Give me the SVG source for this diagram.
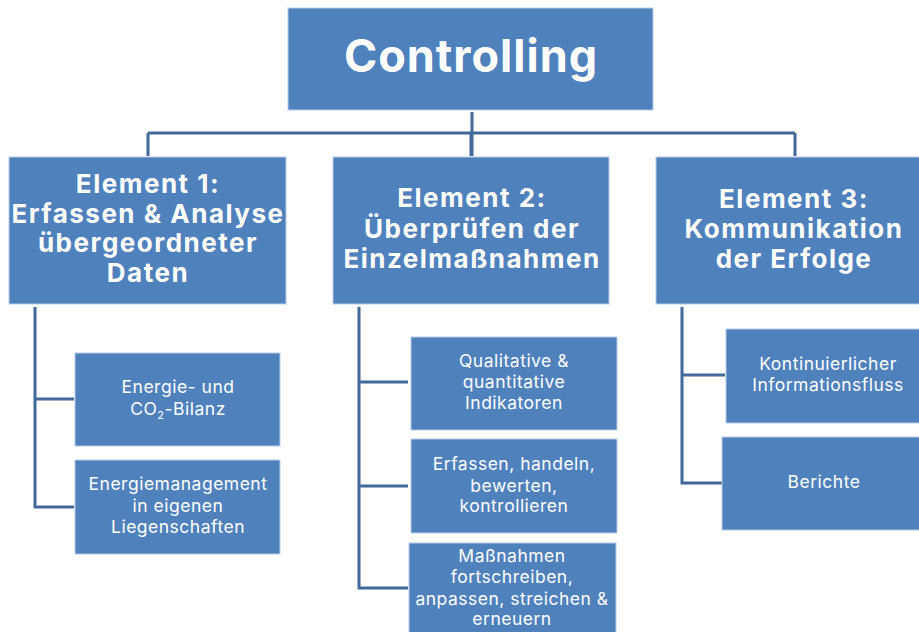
<svg xmlns="http://www.w3.org/2000/svg" width="919" height="632" viewBox="0 0 919 632">
<style>
.box{fill:#4F81BD;stroke:#B9CCE6;stroke-width:1}
.conn{stroke:#41699A;stroke-width:3;fill:none}
.t{fill:#fff;font-family:Inter,"Open Sans","DejaVu Sans",sans-serif;text-anchor:middle}
.h{font-weight:bold;font-size:26px;letter-spacing:1.5px}
.s{font-size:17.5px;letter-spacing:0.5px}
</style>
<rect width="919" height="632" fill="#fff"/>
<g id="connectors">
<path class="conn" d="M472 112V156M148 133H795M148 133V156M471 133V156M795 133V156"/>
<path class="conn" d="M35 307V507H74M35 399H74"/>
<path class="conn" d="M359 307V588H408M359 382H408M359 486H408"/>
<path class="conn" d="M682 307V483H722M682 375H725"/>
</g>
<g id="controlling">
<rect class="box" x="288" y="8" width="365" height="102"/>
<text class="t" x="471" y="72" font-weight="bold" font-size="45" letter-spacing="1">Controlling</text>
</g>
<g id="element1">
<rect class="box" x="9" y="157" width="277" height="147"/>
<text class="t h" x="148" y="193">Element 1:</text>
<text class="t h" x="148" y="223">Erfassen &amp; Analyse</text>
<text class="t h" x="148" y="252">übergeordneter</text>
<text class="t h" x="148" y="282">Daten</text>
</g>
<g id="element2">
<rect class="box" x="333" y="157" width="276" height="147"/>
<text class="t h" x="472" y="207">Element 2:</text>
<text class="t h" x="472" y="238">Überprüfen der</text>
<text class="t h" x="472" y="268">Einzelmaßnahmen</text>
</g>
<g id="element3">
<rect class="box" x="656" y="157" width="270" height="147"/>
<text class="t h" x="794" y="208">Element 3:</text>
<text class="t h" x="794" y="238">Kommunikation</text>
<text class="t h" x="794" y="268">der Erfolge</text>
</g>
<g id="e1a">
<rect class="box" x="75" y="353" width="205" height="93"/>
<text class="t s" x="178" y="393">Energie- und</text>
<text class="t s" x="178" y="415">CO<tspan font-size="11" dy="4">2</tspan><tspan dy="-4">-Bilanz</tspan></text>
</g>
<g id="e1b">
<rect class="box" x="75" y="460" width="205" height="94"/>
<text class="t s" x="178" y="490">Energiemanagement</text>
<text class="t s" x="178" y="512">in eigenen</text>
<text class="t s" x="178" y="533">Liegenschaften</text>
</g>
<g id="e2a">
<rect class="box" x="411" y="337" width="206" height="93"/>
<text class="t s" x="514" y="367">Qualitative &amp;</text>
<text class="t s" x="514" y="388">quantitative</text>
<text class="t s" x="514" y="409">Indikatoren</text>
</g>
<g id="e2b">
<rect class="box" x="411" y="439" width="206" height="94"/>
<text class="t s" x="514" y="470">Erfassen, handeln,</text>
<text class="t s" x="514" y="492">bewerten,</text>
<text class="t s" x="514" y="512">kontrollieren</text>
</g>
<g id="e2c">
<rect class="box" x="409" y="543" width="207" height="95"/>
<text class="t s" x="512" y="562">Maßnahmen</text>
<text class="t s" x="512" y="583">fortschreiben,</text>
<text class="t s" x="512" y="605">anpassen, streichen &amp;</text>
<text class="t s" x="512" y="625">erneuern</text>
</g>
<g id="e3a">
<rect class="box" x="726" y="329" width="200" height="94"/>
<text class="t s" x="828" y="370">Kontinuierlicher</text>
<text class="t s" x="828" y="391">Informationsfluss</text>
</g>
<g id="e3b">
<rect class="box" x="722" y="437" width="204" height="93"/>
<text class="t s" x="824" y="488">Berichte</text>
</g>
</svg>
